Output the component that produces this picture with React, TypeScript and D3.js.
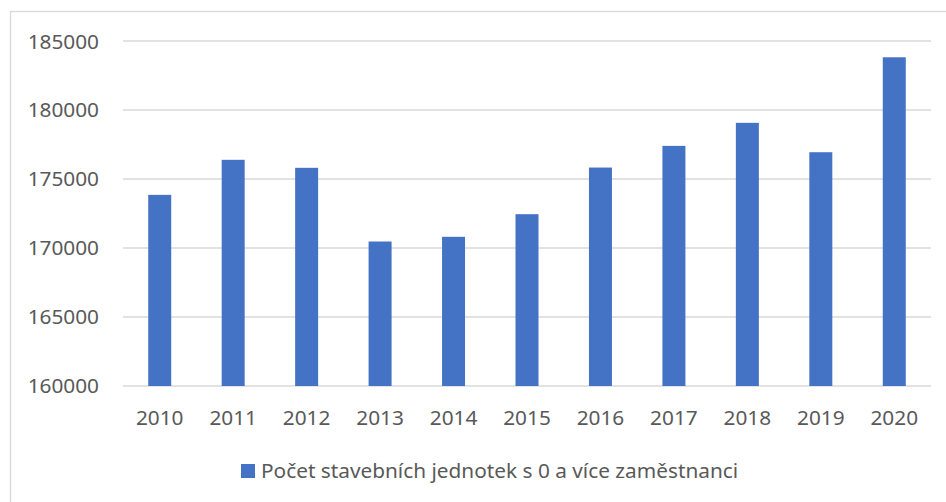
import * as d3 from "d3";

// Počet stavebních jednotek podle roku
const roky = ["2010", "2011", "2012", "2013", "2014", "2015", "2016", "2017", "2018", "2019", "2020"];
const pocty = [173850, 176390, 175810, 170470, 170810, 172450, 175830, 177400, 179070, 176940, 183820];
const yTicks = [160000, 165000, 170000, 175000, 180000, 185000];
const legendLabel = "Počet stavebních jednotek s 0 a více zaměstnanci";

const WIDTH = 946;
const HEIGHT = 502;
const BAR_COLOR = "#4472c4";
const GRID_COLOR = "#d9d9d9";
const TEXT_COLOR = "#595959";
const FONT = "'Noto Sans', 'Open Sans', sans-serif";
const FONT_SIZE = "20.8px";

const margin = { top: 41, right: 15, bottom: 116, left: 123 };

export default function App() {
  const innerW = WIDTH - margin.left - margin.right;
  const innerH = HEIGHT - margin.top - margin.bottom;

  const x = d3
    .scaleBand<string>()
    .domain(roky)
    .range([0, innerW])
    .paddingInner(0.687)
    .paddingOuter(0.687 / 2);

  const y = d3.scaleLinear().domain([160000, 185000]).range([innerH, 0]);

  return (
    <div style={{ position: "absolute", left: 0, top: 0 }}>
      <svg width={WIDTH} height={HEIGHT} style={{ display: "block", background: "#fff" }}>
        {/* rámeček grafu */}
        <rect x={10.5} y={11.5} width={WIDTH} height={HEIGHT} fill="none" stroke={GRID_COLOR} strokeWidth={1.3} />

        <g transform={`translate(${margin.left},${margin.top})`}>
          {/* mřížka + popisky osy Y */}
          {yTicks.map((t) => (
            <g key={t}>
              <line x1={0} x2={innerW} y1={y(t)} y2={y(t)} stroke={GRID_COLOR} strokeWidth={1.3} />
              <text
                x={-24}
                y={y(t)}
                dy="0.36em"
                textAnchor="end"
                fill={TEXT_COLOR}
                style={{ fontFamily: FONT, fontSize: FONT_SIZE }}
              >
                {t}
              </text>
            </g>
          ))}

          {/* sloupce */}
          {roky.map((r, i) => (
            <rect
              key={r}
              x={x(r)}
              y={y(pocty[i])}
              width={x.bandwidth()}
              height={innerH - y(pocty[i])}
              fill={BAR_COLOR}
            />
          ))}

          {/* popisky osy X */}
          {roky.map((r) => (
            <text
              key={r}
              x={(x(r) ?? 0) + x.bandwidth() / 2}
              y={innerH + 39}
              textAnchor="middle"
              fill={TEXT_COLOR}
              style={{ fontFamily: FONT, fontSize: FONT_SIZE }}
            >
              {r}
            </text>
          ))}
        </g>

        {/* legenda */}
        <rect x={241} y={464} width={14} height={14} fill={BAR_COLOR} />
        <text x={261} y={477.5} fill={TEXT_COLOR} style={{ fontFamily: FONT, fontSize: FONT_SIZE }}>
          {legendLabel}
        </text>
      </svg>
    </div>
  );
}
